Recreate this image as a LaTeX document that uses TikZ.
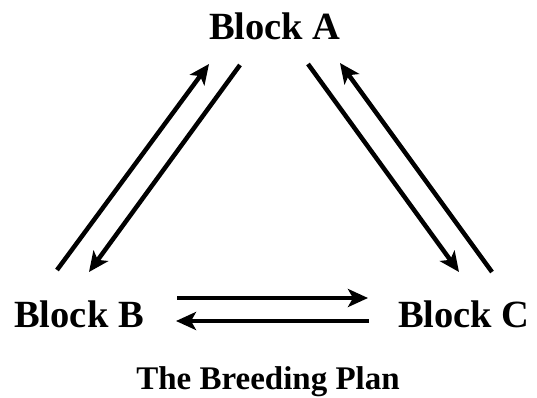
\documentclass[tikz,border=0pt]{standalone}
\usepackage{fontspec}
\setmainfont{Liberation Serif}
\usetikzlibrary{arrows.meta}
\begin{document}
\begin{tikzpicture}[x=1pt,y=-1pt,
  lbl/.style={font=\fontsize{38.5}{40}\selectfont\bfseries, inner sep=0pt, anchor=base},
  ttl/.style={font=\fontsize{33}{36}\selectfont\bfseries, inner sep=0pt, anchor=base},
  arr/.style={line width=4.5pt, -{Stealth[length=20pt,width=18pt,inset=5pt]}}]
\useasboundingbox (0,0) rectangle (537,398);
\node[lbl] (A) at (275,40) {Block A};
\node[lbl] (B) at (79,327) {Block B};
\node[lbl] (C) at (464,327) {Block C};
\node[ttl] (T) at (268,389) {The Breeding Plan};
% left pair
\coordinate (l1s) at (57,270); \coordinate (l1e) at (209,64);
\coordinate (l2s) at (240,65); \coordinate (l2e) at (89,272);
% right pair
\coordinate (r1s) at (308,64); \coordinate (r1e) at (459,272);
\coordinate (r2s) at (492,272); \coordinate (r2e) at (340,63);
% horizontal
\coordinate (h1s) at (177,298); \coordinate (h1e) at (368,298);
\coordinate (h2s) at (369,321); \coordinate (h2e) at (176,321);
\draw[arr] (l1s) -- (l1e);
\draw[arr] (l2s) -- (l2e);
\draw[arr] (r1s) -- (r1e);
\draw[arr] (r2s) -- (r2e);
\draw[arr] (h1s) -- (h1e);
\draw[arr] (h2s) -- (h2e);
\end{tikzpicture}
\end{document}
